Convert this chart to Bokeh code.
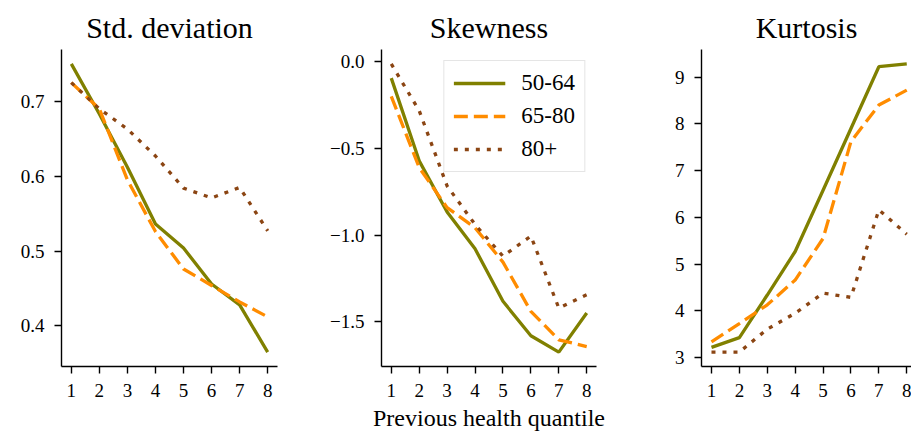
from bokeh.plotting import figure
from bokeh.layouts import row
from bokeh.models import FixedTicker, Legend, LegendItem, Range1d
from bokeh.embed import file_html
from bokeh.resources import INLINE

# ---- data ----
quantiles = [1, 2, 3, 4, 5, 6, 7, 8]
groups = ["50-64", "65-80", "80+"]

std_50_64 = [0.750, 0.683, 0.612, 0.536, 0.504, 0.456, 0.428, 0.365]
std_65_80 = [0.725, 0.690, 0.595, 0.526, 0.476, 0.454, 0.432, 0.412]
std_80p = [0.725, 0.690, 0.663, 0.627, 0.584, 0.571, 0.585, 0.527]

skew_50_64 = [-0.094, -0.571, -0.866, -1.078, -1.381, -1.580, -1.674, -1.449]
skew_65_80 = [-0.199, -0.610, -0.841, -0.957, -1.155, -1.439, -1.603, -1.642]
skew_80p = [-0.012, -0.282, -0.716, -0.938, -1.121, -1.005, -1.420, -1.343]

kurt_50_64 = [3.22, 3.43, 4.34, 5.27, 6.58, 7.90, 9.22, 9.28]
kurt_65_80 = [3.34, 3.73, 4.13, 4.66, 5.55, 7.62, 8.40, 8.72]
kurt_80p = [3.12, 3.12, 3.61, 3.95, 4.38, 4.29, 6.16, 5.64]

titles = ["Std. deviation", "Skewness", "Kurtosis"]
x_label = "Previous health quantile"

std_ticks = [0.4, 0.5, 0.6, 0.7]
std_tick_labels = ["0.4", "0.5", "0.6", "0.7"]
skew_ticks = [-1.5, -1.0, -0.5, 0.0]
skew_tick_labels = ["\u22121.5", "\u22121.0", "\u22120.5", "0.0"]
kurt_ticks = [3, 4, 5, 6, 7, 8, 9]
kurt_tick_labels = ["3", "4", "5", "6", "7", "8", "9"]

colors = ["#808000", "#ff8c00", "#8b4513"]
dashes = ["solid", "14 6", "4 7"]

FONT = "Liberation Serif"
TOP = 49
BOTTOM = 70
HEIGHT = 436


def make_panel(title, series, yticks, ylabels, left, frame_w, right,
               with_xlabel=False, legend=False, x_end=None):
    kw = {}
    if x_end is not None:
        kw["x_range"] = Range1d(0.642, x_end)
    p = figure(width=left + frame_w + right, height=HEIGHT,
               output_backend="svg", toolbar_location=None,
               min_border_left=left, min_border_right=right,
               min_border_top=TOP, min_border_bottom=BOTTOM,
               title=title, **kw)
    p.title.text_font = FONT
    p.title.text_font_size = "30px"
    p.title.text_font_style = "normal"
    p.title.align = "center"
    p.title.text_color = "black"
    p.title.standoff = 12
    p.outline_line_color = None
    p.background_fill_color = "white"
    p.border_fill_color = "white"
    p.grid.visible = False
    if x_end is None:
        p.x_range.range_padding = 0.1
    p.y_range.range_padding = 0.1

    items = []
    for ys, c, d, g in zip(series, colors, dashes, groups):
        r = p.line(quantiles, ys, line_color=c, line_width=3.3, line_dash=d)
        items.append(LegendItem(label=g, renderers=[r]))

    for ax in (p.xaxis[0], p.yaxis[0]):
        ax.axis_line_width = 1.4
        ax.axis_line_color = "black"
        ax.major_tick_line_width = 1.4
        ax.major_tick_line_color = "black"
        ax.major_tick_out = 7
        ax.major_tick_in = 0
        ax.minor_tick_line_color = None
        ax.major_label_text_font = FONT
        ax.major_label_text_font_size = "19px"
        ax.major_label_text_color = "black"
    p.xaxis[0].major_label_standoff = 10
    p.yaxis[0].major_label_standoff = 10

    p.xaxis[0].ticker = FixedTicker(ticks=quantiles)
    p.yaxis[0].ticker = FixedTicker(ticks=yticks)
    p.yaxis[0].major_label_overrides = {t: l for t, l in zip(yticks, ylabels)}

    if with_xlabel:
        p.xaxis[0].axis_label = x_label
        p.xaxis[0].axis_label_text_font = FONT
        p.xaxis[0].axis_label_text_font_size = "24px"
        p.xaxis[0].axis_label_text_font_style = "normal"
        p.xaxis[0].axis_label_text_color = "black"
        p.xaxis[0].axis_label_standoff = 5

    if legend:
        lg = Legend(items=items, location="top_right")
        lg.label_text_font = FONT
        lg.label_text_font_size = "23px"
        lg.label_text_color = "black"
        lg.glyph_width = 52
        lg.glyph_height = 24
        lg.label_height = 24
        lg.label_standoff = 16
        lg.spacing = 7
        lg.padding = 9
        lg.margin = 11
        lg.border_line_color = "#cccccc"
        lg.border_line_width = 1.3
        lg.background_fill_color = "white"
        lg.background_fill_alpha = 0.8
        p.add_layout(lg)
    return p


p1 = make_panel(titles[0], [std_50_64, std_65_80, std_80p], std_ticks, std_tick_labels,
                61, 216, 38)
p2 = make_panel(titles[1], [skew_50_64, skew_65_80, skew_80p], skew_ticks, skew_tick_labels,
                66, 215, 54, with_xlabel=True, legend=True)
p3 = make_panel(titles[2], [kurt_50_64, kurt_65_80, kurt_80p], kurt_ticks, kurt_tick_labels,
                51, 210, 0, x_end=8.17)

layout = row(p1, p2, p3)

open("out.html", "w").write(file_html(layout, INLINE))
